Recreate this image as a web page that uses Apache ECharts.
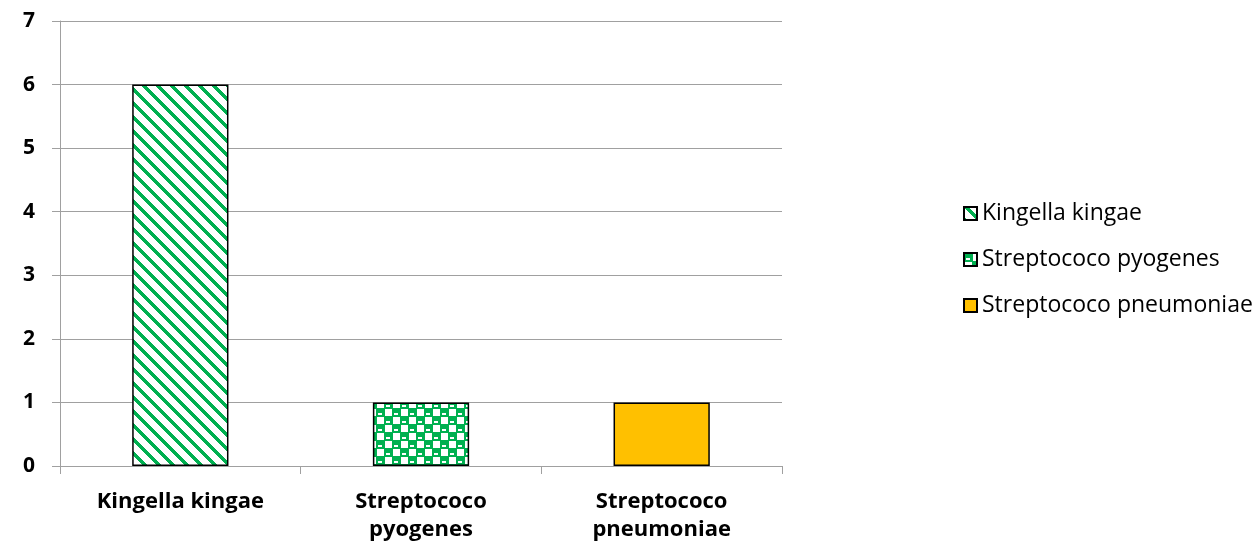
<!DOCTYPE html>
<html>
<head>
<meta charset="utf-8">
<script src="https://cdn.jsdelivr.net/npm/echarts@6/dist/echarts.min.js"></script>
<style>html,body{margin:0;padding:0;background:#fff}#c{width:1258px;height:546px}</style>
</head>
<body>
<div id="c"></div>
<script>
var categories = ["Kingella kingae", "Streptococo pyogenes", "Streptococo pneumoniae"];
var seriesNames = ["Kingella kingae", "Streptococo pyogenes", "Streptococo pneumoniae"];
var values = [6, 1, 1];
var yTicks = [0, 1, 2, 3, 4, 5, 6, 7];

var GREEN = '#00B050';
function stripePattern() {
  var s = 14, c = document.createElement('canvas');
  c.width = s; c.height = s;
  var g = c.getContext('2d');
  g.fillStyle = '#fff'; g.fillRect(0, 0, s, s);
  g.fillStyle = GREEN;
  for (var y = 0; y < s; y++) {
    for (var x = 0; x < s; x++) {
      var d = ((x - y) % s + s) % s;
      if (d < 5) g.fillRect(x, y, 1, 1);
    }
  }
  return c;
}
function checkerPattern() {
  var s = 16, c = document.createElement('canvas');
  c.width = s; c.height = s;
  var g = c.getContext('2d');
  g.fillStyle = '#fff'; g.fillRect(0, 0, s, s);
  g.fillStyle = GREEN;
  g.fillRect(0, 0, 9, 9);
  g.fillRect(8, 8, 8, 8);
  g.fillRect(0, 8, 1, 8);
  g.fillRect(8, 0, 8, 1);
  g.fillStyle = '#fff';
  g.fillRect(2, 5, 4, 2);
  g.fillRect(10, 13, 4, 2);
  return c;
}
var fills = [
  { image: stripePattern(), repeat: 'repeat' },
  { image: checkerPattern(), repeat: 'repeat' },
  '#FFC000'
];

var series = seriesNames.map(function (name, i) {
  return {
    name: name,
    type: 'bar',
    stack: 'all',
    barWidth: '40%',
    data: categories.map(function (c, j) { return j === i ? values[i] : null; }),
    itemStyle: { color: fills[i], borderColor: '#000', borderWidth: 1.5 },
    emphasis: { disabled: true }
  };
});

var chart = echarts.init(document.getElementById('c'), null, { renderer: 'canvas' });
chart.setOption({
  animation: false,
  backgroundColor: '#fff',
  grid: { left: 60, right: 476, top: 21, bottom: 80, containLabel: false },
  legend: {
    orient: 'vertical',
    left: 958,
    top: 197,
    itemWidth: 13,
    itemHeight: 13,
    itemGap: 23,
    icon: 'rect',
    textStyle: { fontFamily: 'Open Sans', fontSize: 23, color: '#000' },
    data: seriesNames
  },
  xAxis: {
    type: 'category',
    data: categories,
    axisLine: { lineStyle: { color: '#a0a0a0', width: 1 } },
    axisTick: { show: true, alignWithLabel: false, length: 8, lineStyle: { color: '#a0a0a0' } },
    axisLabel: {
      color: '#000', fontFamily: 'Open Sans', fontWeight: 'bold', fontSize: 22, margin: 22, lineHeight: 28,
      formatter: function (v) { return v.replace('Streptococo ', 'Streptococo\n'); }
    }
  },
  yAxis: {
    type: 'value',
    min: yTicks[0],
    max: yTicks[yTicks.length - 1],
    interval: 1,
    axisLine: { show: true, lineStyle: { color: '#a0a0a0', width: 1 } },
    axisTick: { show: true, length: 8, lineStyle: { color: '#a0a0a0' } },
    splitLine: { lineStyle: { color: '#a0a0a0', width: 1 } },
    axisLabel: { color: '#000', fontFamily: 'Open Sans', fontWeight: 'bold', fontSize: 21, margin: 25 }
  },
  series: series
});
</script>
</body>
</html>
